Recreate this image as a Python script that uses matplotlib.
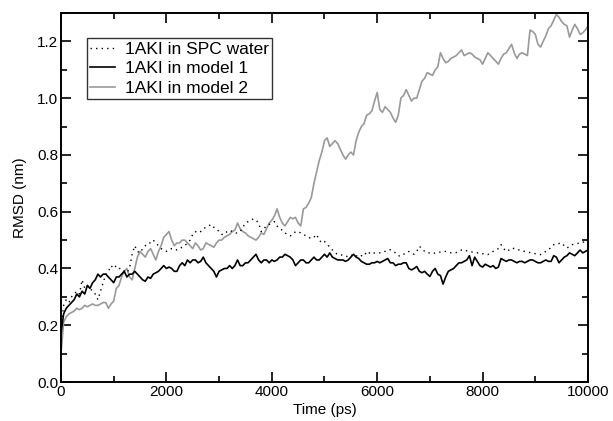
import numpy as np
import matplotlib
matplotlib.use("Agg")
import matplotlib.pyplot as plt
from matplotlib.ticker import MultipleLocator

# time axis (ps), one frame every 50 ps
time_ps = np.arange(0, 10001, 50)

# RMSD (nm)
spc_water = [
    0.19, 0.27, 0.29, 0.28, 0.30, 0.31, 0.32, 0.31, 0.36, 0.33,
    0.34, 0.33, 0.32, 0.31, 0.29, 0.32, 0.35, 0.38, 0.39, 0.41,
    0.40, 0.41, 0.40, 0.40, 0.39, 0.385, 0.40, 0.45, 0.48, 0.46,
    0.455, 0.47, 0.48, 0.49, 0.49, 0.50, 0.49, 0.48, 0.47, 0.465,
    0.46, 0.465, 0.47, 0.47, 0.465, 0.47, 0.475, 0.48, 0.49, 0.50,
    0.52, 0.53, 0.525, 0.53, 0.54, 0.545, 0.55, 0.555, 0.545, 0.54,
    0.53, 0.52, 0.52, 0.53, 0.535, 0.53, 0.525, 0.525, 0.53, 0.545,
    0.56, 0.565, 0.57, 0.575, 0.57, 0.56, 0.53, 0.54, 0.55, 0.555,
    0.56, 0.565, 0.55, 0.54, 0.535, 0.525, 0.52, 0.515, 0.52, 0.53,
    0.53, 0.525, 0.52, 0.515, 0.51, 0.505, 0.51, 0.52, 0.50, 0.49,
    0.495, 0.485, 0.475, 0.465, 0.455, 0.45, 0.45, 0.445, 0.445, 0.44,
    0.445, 0.45, 0.445, 0.44, 0.445, 0.443, 0.46, 0.455, 0.45, 0.455,
    0.455, 0.455, 0.46, 0.46, 0.465, 0.466, 0.46, 0.455, 0.445, 0.443,
    0.45, 0.455, 0.46, 0.455, 0.45, 0.46, 0.478, 0.47, 0.46, 0.455,
    0.455, 0.452, 0.455, 0.456, 0.458, 0.46, 0.46, 0.458, 0.455, 0.455,
    0.456, 0.46, 0.465, 0.466, 0.462, 0.46, 0.458, 0.456, 0.455, 0.455,
    0.452, 0.45, 0.449, 0.455, 0.46, 0.465, 0.47, 0.484, 0.47, 0.46,
    0.465, 0.472, 0.47, 0.466, 0.465, 0.462, 0.46, 0.458, 0.456, 0.455,
    0.452, 0.45, 0.449, 0.455, 0.46, 0.465, 0.475, 0.484, 0.485, 0.488,
    0.49, 0.48, 0.472, 0.478, 0.484, 0.486, 0.488, 0.49, 0.492, 0.495,
    0.496,
]

model_1 = [
    0.17, 0.24, 0.26, 0.27, 0.28, 0.29, 0.31, 0.30, 0.32, 0.31,
    0.34, 0.33, 0.35, 0.36, 0.38, 0.37, 0.38, 0.38, 0.37, 0.36,
    0.35, 0.37, 0.37, 0.38, 0.39, 0.37, 0.38, 0.38, 0.39, 0.38,
    0.37, 0.36, 0.355, 0.37, 0.365, 0.38, 0.385, 0.39, 0.40, 0.41,
    0.40, 0.405, 0.40, 0.39, 0.39, 0.41, 0.42, 0.41, 0.43, 0.42,
    0.43, 0.43, 0.42, 0.425, 0.44, 0.42, 0.41, 0.40, 0.39, 0.37,
    0.39, 0.395, 0.40, 0.40, 0.41, 0.40, 0.41, 0.43, 0.41, 0.41,
    0.42, 0.42, 0.43, 0.44, 0.45, 0.43, 0.42, 0.43, 0.43, 0.42,
    0.43, 0.425, 0.43, 0.44, 0.44, 0.45, 0.445, 0.44, 0.43, 0.41,
    0.42, 0.43, 0.43, 0.42, 0.42, 0.43, 0.44, 0.43, 0.43, 0.44,
    0.45, 0.44, 0.455, 0.44, 0.435, 0.43, 0.43, 0.43, 0.425, 0.43,
    0.44, 0.45, 0.44, 0.435, 0.425, 0.42, 0.415, 0.415, 0.42, 0.42,
    0.425, 0.42, 0.425, 0.43, 0.435, 0.42, 0.42, 0.41, 0.415, 0.415,
    0.42, 0.42, 0.40, 0.395, 0.40, 0.407, 0.39, 0.385, 0.39, 0.38,
    0.372, 0.39, 0.40, 0.38, 0.375, 0.345, 0.37, 0.39, 0.395, 0.40,
    0.41, 0.42, 0.42, 0.425, 0.43, 0.445, 0.41, 0.44, 0.425, 0.41,
    0.405, 0.415, 0.41, 0.405, 0.41, 0.40, 0.405, 0.435, 0.43, 0.425,
    0.43, 0.43, 0.425, 0.42, 0.425, 0.425, 0.42, 0.425, 0.43, 0.43,
    0.425, 0.42, 0.42, 0.425, 0.43, 0.425, 0.425, 0.445, 0.44, 0.42,
    0.43, 0.44, 0.445, 0.455, 0.45, 0.445, 0.455, 0.465, 0.455, 0.46,
    0.465,
]

model_2 = [
    0.10, 0.21, 0.23, 0.24, 0.245, 0.25, 0.26, 0.255, 0.26, 0.27,
    0.265, 0.27, 0.275, 0.27, 0.27, 0.275, 0.28, 0.28, 0.26, 0.275,
    0.285, 0.33, 0.34, 0.37, 0.39, 0.40, 0.37, 0.36, 0.40, 0.44,
    0.46, 0.45, 0.44, 0.46, 0.47, 0.45, 0.43, 0.46, 0.48, 0.51,
    0.52, 0.53, 0.50, 0.48, 0.49, 0.49, 0.50, 0.50, 0.49, 0.48,
    0.47, 0.49, 0.48, 0.465, 0.47, 0.49, 0.485, 0.48, 0.475, 0.49,
    0.50, 0.50, 0.51, 0.515, 0.52, 0.53, 0.535, 0.56, 0.54, 0.53,
    0.525, 0.515, 0.51, 0.505, 0.50, 0.51, 0.525, 0.52, 0.54, 0.56,
    0.57, 0.585, 0.61, 0.58, 0.56, 0.55, 0.565, 0.58, 0.575, 0.58,
    0.56, 0.55, 0.61, 0.615, 0.63, 0.65, 0.70, 0.74, 0.78, 0.81,
    0.85, 0.86, 0.83, 0.84, 0.85, 0.84, 0.82, 0.80, 0.785, 0.80,
    0.81, 0.80, 0.85, 0.88, 0.90, 0.91, 0.94, 0.945, 0.955, 0.99,
    1.02, 0.96, 0.95, 0.97, 0.96, 0.95, 0.93, 0.915, 0.94, 1.00,
    1.01, 1.03, 1.01, 0.99, 1.00, 1.00, 1.03, 1.06, 1.07, 1.09,
    1.085, 1.08, 1.10, 1.11, 1.16, 1.14, 1.125, 1.13, 1.14, 1.145,
    1.15, 1.16, 1.17, 1.15, 1.155, 1.16, 1.155, 1.145, 1.14, 1.135,
    1.12, 1.14, 1.16, 1.15, 1.14, 1.13, 1.12, 1.14, 1.155, 1.16,
    1.175, 1.19, 1.16, 1.14, 1.155, 1.16, 1.155, 1.15, 1.24, 1.235,
    1.225, 1.19, 1.18, 1.20, 1.22, 1.245, 1.255, 1.275, 1.295, 1.285,
    1.27, 1.26, 1.255, 1.215, 1.24, 1.26, 1.245, 1.225, 1.23, 1.24,
    1.255,
]

labels = ["1AKI in SPC water", "1AKI in model 1", "1AKI in model 2"]


def main():
    plt.rcParams['font.family'] = ['Liberation Sans', 'DejaVu Sans']

    fig = plt.figure(figsize=(6.13, 4.21), dpi=100)
    ax = fig.add_axes([0.0995, 0.0926, 0.8597, 0.8765])

    ax.plot(time_ps, spc_water, color='black', lw=1.0,
            linestyle=(0, (1, 3)), label=labels[0], zorder=4)
    ax.plot(time_ps, model_1, color='black', lw=1.2,
            label=labels[1], zorder=3)
    ax.plot(time_ps, model_2, color='#999999', lw=1.2,
            label=labels[2], zorder=2)

    ax.set_xlim(0, 10000)
    ax.set_ylim(0, 1.3)
    ax.xaxis.set_major_locator(MultipleLocator(2000))
    ax.xaxis.set_minor_locator(MultipleLocator(1000))
    ax.yaxis.set_major_locator(MultipleLocator(0.2))
    ax.yaxis.set_minor_locator(MultipleLocator(0.1))
    ax.yaxis.set_major_formatter(plt.FormatStrFormatter('%.1f'))

    ax.tick_params(which='both', direction='in', top=True, right=True,
                   labelsize=11, width=1.2, pad=2)
    ax.tick_params(which='major', length=7.5)
    ax.tick_params(which='minor', length=4)
    for s in ax.spines.values():
        s.set_linewidth(1.4)

    ax.set_xlabel("Time (ps)", fontsize=11, labelpad=3)
    ax.set_ylabel("RMSD (nm)", fontsize=11, labelpad=7)

    leg = ax.legend(loc='upper left', bbox_to_anchor=(0.049, 0.932),
                    fontsize=12.5, frameon=True, fancybox=False,
                    borderpad=0.2, labelspacing=0.25, handlelength=1.4,
                    handletextpad=0.6, borderaxespad=0)
    leg.get_frame().set_edgecolor('black')
    leg.get_frame().set_linewidth(1.0)

    fig.savefig("out.png", dpi=100)


if __name__ == '__main__':
    main()
